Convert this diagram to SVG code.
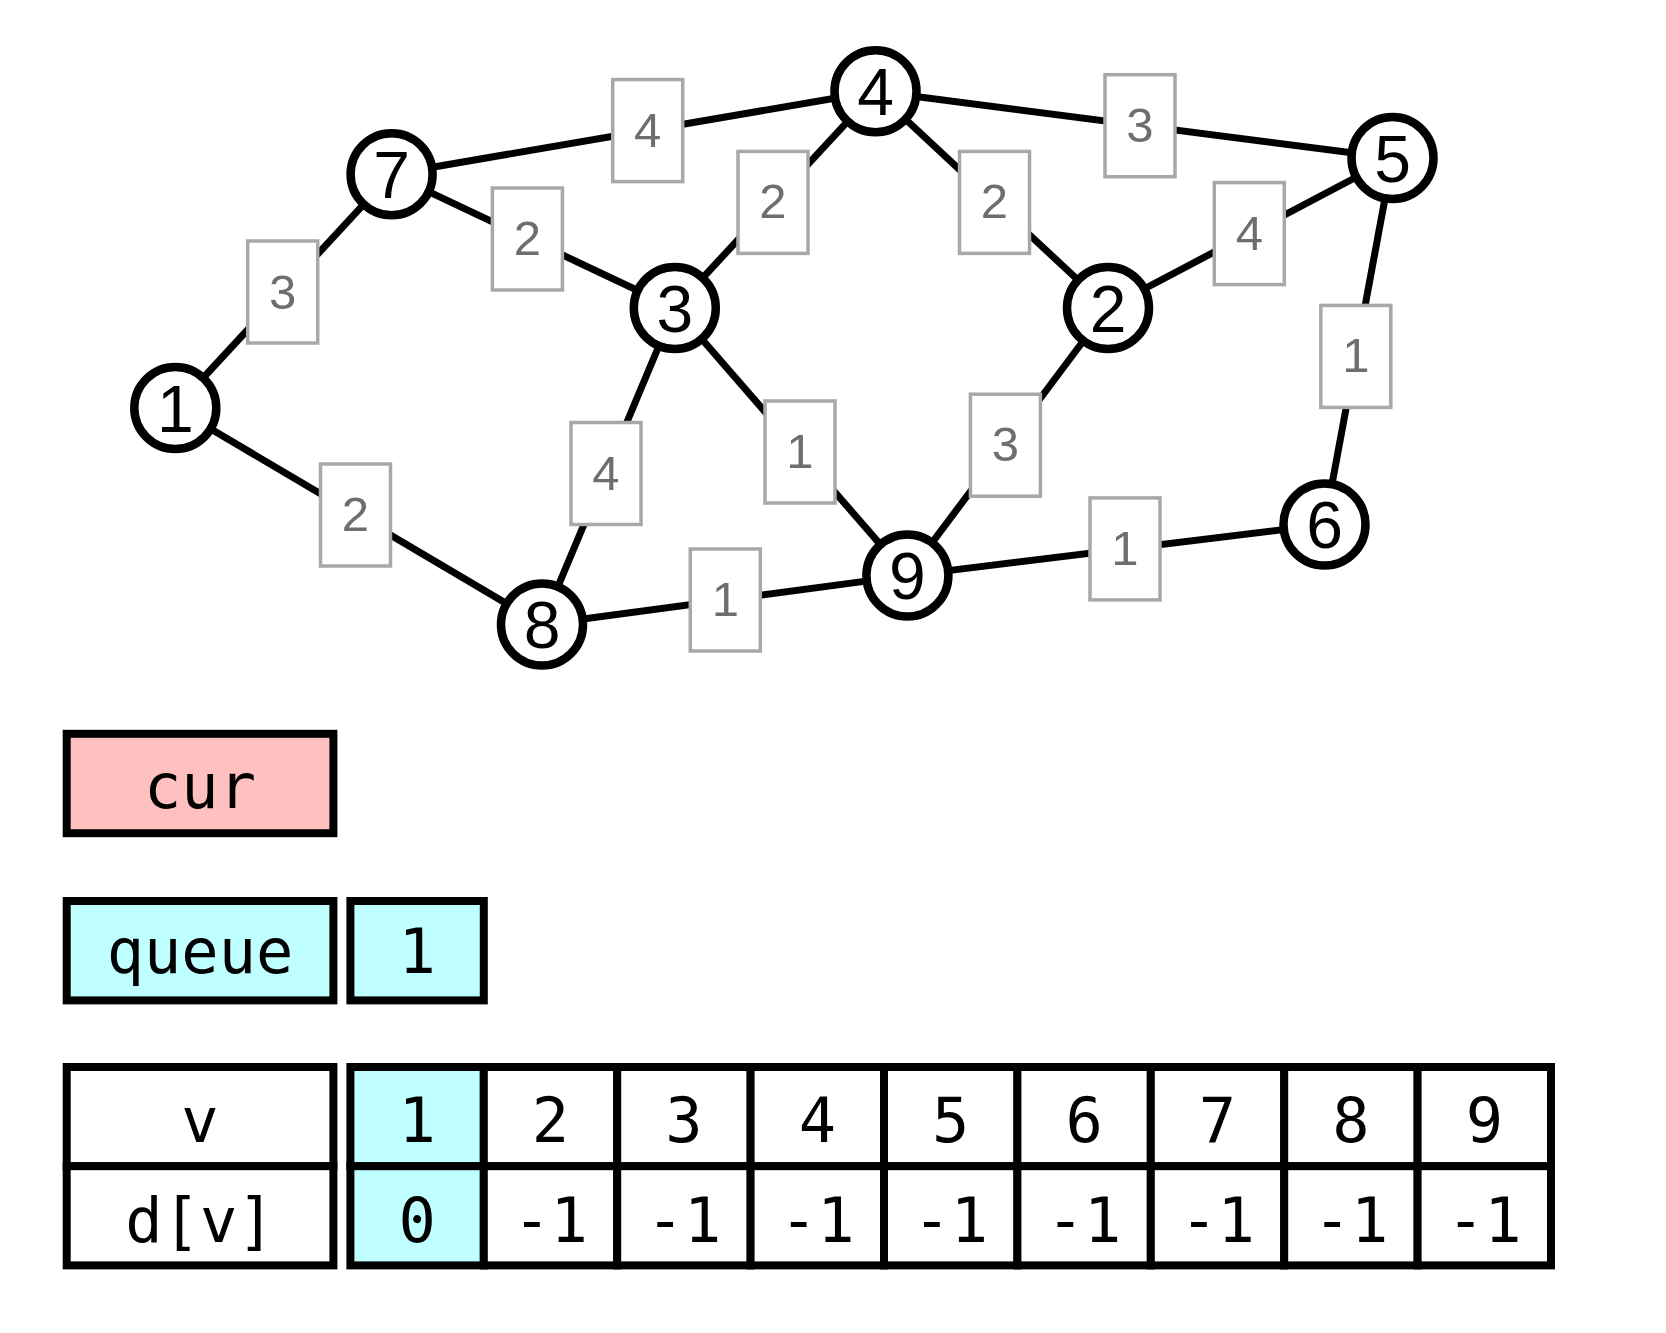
<svg xmlns="http://www.w3.org/2000/svg" width="1666" height="1333" viewBox="0 0 1666 1333">
<style>
.edge{stroke:#000;stroke-width:7;fill:none}
.node circle{fill:#fff;stroke:#000;stroke-width:8.5}
.node text{font-family:"Liberation Sans",Arial,sans-serif;font-size:66px;fill:#000;text-anchor:middle}
.lbl rect{fill:#fff;stroke:#a8a8a8;stroke-width:3.5}
.lbl text{font-family:"Liberation Sans",Arial,sans-serif;font-size:49px;fill:#6e6e6e;text-anchor:middle}
.cell{stroke:#000;stroke-width:8;fill:#fff}
.pink{fill:#ffc0c0}
.cyan{fill:#c0ffff}
.mono{font-family:"DejaVu Sans Mono","Liberation Mono",monospace;font-size:62px;fill:#000;text-anchor:middle}
</style>
<rect width="1666" height="1333" fill="#fff"/>
<g id="connectors">
<line class="edge" x1="175.3" y1="408" x2="391.6" y2="174.2"/>
<line class="edge" x1="175.3" y1="408" x2="542" y2="624.5"/>
<line class="edge" x1="391.6" y1="174.2" x2="875.5" y2="91.3"/>
<line class="edge" x1="391.6" y1="174.2" x2="674.8" y2="308"/>
<line class="edge" x1="674.8" y1="308" x2="875.5" y2="91.3"/>
<line class="edge" x1="674.8" y1="308" x2="542" y2="624.5"/>
<line class="edge" x1="674.8" y1="308" x2="907.4" y2="575.6"/>
<line class="edge" x1="542" y1="624.5" x2="907.4" y2="575.6"/>
<line class="edge" x1="875.5" y1="91.3" x2="1392.5" y2="158"/>
<line class="edge" x1="875.5" y1="91.3" x2="1108" y2="308"/>
<line class="edge" x1="1108" y1="308" x2="1392.5" y2="158"/>
<line class="edge" x1="1108" y1="308" x2="907.4" y2="575.6"/>
<line class="edge" x1="907.4" y1="575.6" x2="1324.5" y2="524.6"/>
<line class="edge" x1="1392.5" y1="158" x2="1324.5" y2="524.6"/>
<g class="lbl"><rect x="247.7" y="241" width="70" height="102"/><text x="282.7" y="308.5">3</text></g>
<g class="lbl"><rect x="320.5" y="464" width="70" height="102"/><text x="355.5" y="531">2</text></g>
<g class="lbl"><rect x="612.7" y="79.6" width="70" height="102"/><text x="647.7" y="146.6">4</text></g>
<g class="lbl"><rect x="492.4" y="188" width="70" height="102"/><text x="527.4" y="255">2</text></g>
<g class="lbl"><rect x="738" y="151.4" width="70" height="102"/><text x="773" y="218.4">2</text></g>
<g class="lbl"><rect x="571" y="422.5" width="70" height="102"/><text x="606" y="489.5">4</text></g>
<g class="lbl"><rect x="765" y="401" width="70" height="102"/><text x="800" y="468">1</text></g>
<g class="lbl"><rect x="690.3" y="549" width="70" height="102"/><text x="725.3" y="616">1</text></g>
<g class="lbl"><rect x="1105" y="74.7" width="70" height="102"/><text x="1140" y="141.7">3</text></g>
<g class="lbl"><rect x="959.5" y="151.4" width="70" height="102"/><text x="994.5" y="218.4">2</text></g>
<g class="lbl"><rect x="1214.3" y="182.6" width="70" height="102"/><text x="1249.3" y="249.6">4</text></g>
<g class="lbl"><rect x="970.4" y="394.2" width="70" height="102"/><text x="1005.4" y="461.2">3</text></g>
<g class="lbl"><rect x="1090" y="497.9" width="70" height="102"/><text x="1125" y="564.9">1</text></g>
<g class="lbl"><rect x="1320.8" y="305.4" width="70" height="102"/><text x="1355.8" y="372.4">1</text></g>
</g>
<g id="node1" class="node"><circle cx="175.3" cy="408" r="41"/><text x="175.3" y="431.5">1</text></g>
<g id="node2" class="node"><circle cx="1108" cy="308" r="41"/><text x="1108" y="331.5">2</text></g>
<g id="node3" class="node"><circle cx="674.8" cy="308" r="41"/><text x="674.8" y="331.5">3</text></g>
<g id="node4" class="node"><circle cx="875.5" cy="91.3" r="41"/><text x="875.5" y="114.8">4</text></g>
<g id="node5" class="node"><circle cx="1392.5" cy="158" r="41"/><text x="1392.5" y="181.5">5</text></g>
<g id="node6" class="node"><circle cx="1324.5" cy="524.6" r="41"/><text x="1324.5" y="548.1">6</text></g>
<g id="node7" class="node"><circle cx="391.6" cy="174.2" r="41"/><text x="391.6" y="197.7">7</text></g>
<g id="node8" class="node"><circle cx="542" cy="624.5" r="41"/><text x="542" y="648">8</text></g>
<g id="node9" class="node"><circle cx="907.4" cy="575.6" r="41"/><text x="907.4" y="599.1">9</text></g>
<g id="cur">
<rect class="cell pink" x="66.7" y="733.8" width="266.7" height="99.4"/>
<text class="mono" x="200" y="808">cur</text>
</g>
<g id="queue">
<rect class="cell cyan" x="66.7" y="901" width="266.7" height="99.4"/>
<text class="mono" x="200" y="973">queue</text>
<rect class="cell cyan" x="350.4" y="901" width="133.4" height="99.4"/>
<text class="mono" x="417.1" y="973">1</text>
</g>
<g id="table">
<rect class="cell" x="66.7" y="1067" width="266.7" height="99.2"/>
<rect class="cell" x="66.7" y="1166.2" width="266.7" height="99.2"/>
<text class="mono" x="200" y="1141.5">v</text>
<text class="mono" x="200" y="1242.4">d[v]</text>
<rect class="cell cyan" x="350.4" y="1067" width="133.4" height="99.2"/>
<rect class="cell cyan" x="350.4" y="1166.2" width="133.4" height="99.2"/>
<rect class="cell" x="483.8" y="1067" width="133.4" height="99.2"/>
<rect class="cell" x="483.8" y="1166.2" width="133.4" height="99.2"/>
<rect class="cell" x="617.2" y="1067" width="133.4" height="99.2"/>
<rect class="cell" x="617.2" y="1166.2" width="133.4" height="99.2"/>
<rect class="cell" x="750.6" y="1067" width="133.4" height="99.2"/>
<rect class="cell" x="750.6" y="1166.2" width="133.4" height="99.2"/>
<rect class="cell" x="884" y="1067" width="133.4" height="99.2"/>
<rect class="cell" x="884" y="1166.2" width="133.4" height="99.2"/>
<rect class="cell" x="1017.4" y="1067" width="133.4" height="99.2"/>
<rect class="cell" x="1017.4" y="1166.2" width="133.4" height="99.2"/>
<rect class="cell" x="1150.8" y="1067" width="133.4" height="99.2"/>
<rect class="cell" x="1150.8" y="1166.2" width="133.4" height="99.2"/>
<rect class="cell" x="1284.2" y="1067" width="133.4" height="99.2"/>
<rect class="cell" x="1284.2" y="1166.2" width="133.4" height="99.2"/>
<rect class="cell" x="1417.6" y="1067" width="133.4" height="99.2"/>
<rect class="cell" x="1417.6" y="1166.2" width="133.4" height="99.2"/>
<text class="mono" x="417.1" y="1141.5">1</text>
<text class="mono" x="550.5" y="1141.5">2</text>
<text class="mono" x="683.9" y="1141.5">3</text>
<text class="mono" x="817.3" y="1141.5">4</text>
<text class="mono" x="950.7" y="1141.5">5</text>
<text class="mono" x="1084.1" y="1141.5">6</text>
<text class="mono" x="1217.5" y="1141.5">7</text>
<text class="mono" x="1350.9" y="1141.5">8</text>
<text class="mono" x="1484.3" y="1141.5">9</text>
<text class="mono" x="417.1" y="1242.4">0</text>
<text class="mono" x="550.5" y="1242.4">-1</text>
<text class="mono" x="683.9" y="1242.4">-1</text>
<text class="mono" x="817.3" y="1242.4">-1</text>
<text class="mono" x="950.7" y="1242.4">-1</text>
<text class="mono" x="1084.1" y="1242.4">-1</text>
<text class="mono" x="1217.5" y="1242.4">-1</text>
<text class="mono" x="1350.9" y="1242.4">-1</text>
<text class="mono" x="1484.3" y="1242.4">-1</text>
</g>
</svg>
